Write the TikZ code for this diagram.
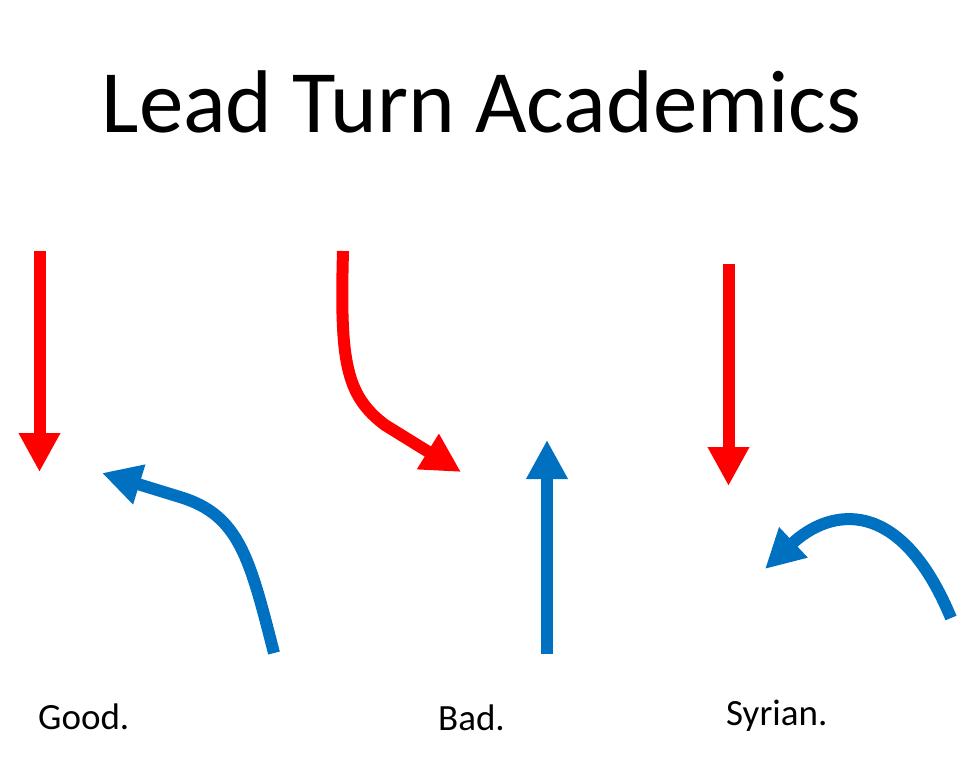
\documentclass[tikz,border=0pt]{standalone}
\usepackage{fontspec}
\setmainfont{Carlito}
\usetikzlibrary{arrows.meta}
\definecolor{pfeilrot}{RGB}{255,0,0}
\definecolor{pfeilblau}{RGB}{0,112,192}
\begin{document}
\begin{tikzpicture}[x=1pt,y=-1pt]
  \tikzstyle{pfeil}=[line width=12pt,-{Triangle[width=39pt,length=39pt]}]
  \tikzstyle{beschriftung}=[anchor=base west,inner sep=0pt,font=\fontsize{37}{40}\selectfont]
  \useasboundingbox (0,0) rectangle (958,763);

  % Titel
  \node[anchor=base,inner sep=0pt,font=\fontsize{89}{100}\selectfont] (titel) at (481.5,132.5) {Lead Turn Academics};

  % Good.
  \coordinate (g rot start) at (39.5,251);
  \coordinate (g rot ziel) at (39.5,472);
  \coordinate (g blau start) at (274,653);
  \coordinate (g blau knick) at (180,497);
  \coordinate (g blau ziel) at (102,473);
  \draw[pfeil,pfeilrot] (g rot start) -- (g rot ziel);
  \draw[pfeil,pfeilblau] (g blau start) .. controls (250,560) and (240,515) .. (g blau knick) -- (g blau ziel);
  \node[beschriftung] (good) at (38,729) {Good.};

  % Bad.
  \coordinate (b rot start) at (343,251);
  \coordinate (b rot knick) at (385,425);
  \coordinate (b rot ziel) at (461,472);
  \coordinate (b blau start) at (547,654);
  \coordinate (b blau ziel) at (547,440);
  \draw[pfeil,pfeilrot] (b rot start) .. controls (340,360) and (345,395) .. (b rot knick) -- (b rot ziel);
  \draw[pfeil,pfeilblau] (b blau start) -- (b blau ziel);
  \node[beschriftung] (bad) at (438,730) {Bad.};

  % Syrian.
  \coordinate (s rot start) at (728.5,264);
  \coordinate (s rot ziel) at (728.5,486);
  \coordinate (s blau start) at (951,618);
  \coordinate (s blau ziel) at (765,569);
  \draw[pfeil,pfeilrot] (s rot start) -- (s rot ziel);
  \draw[pfeil,pfeilblau] (s blau start) .. controls (900,495) and (830,508) .. (s blau ziel);
  \node[beschriftung] (syrian) at (726,725) {Syrian.};

\end{tikzpicture}
\end{document}
